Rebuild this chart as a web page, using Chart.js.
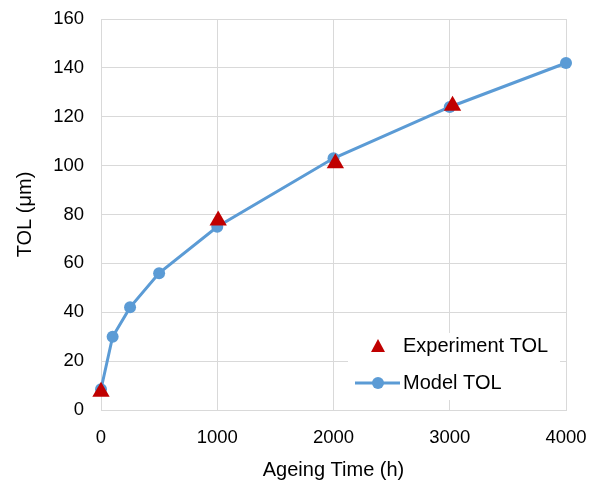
<!DOCTYPE html>
<html>
<head>
<meta charset="utf-8">
<script src="https://cdn.jsdelivr.net/npm/chart.js@4"></script>
<style>
  html, body { margin: 0; padding: 0; background: #fff; }
  #wrap { width: 595px; height: 491px; }
</style>
</head>
<body>
<div id="wrap"><canvas id="chart" width="595" height="491"></canvas></div>
<script>

const modelHours = [0, 100, 250, 500, 1000, 2000, 3000, 4000]
const modelTol = [8.5, 30, 42, 56, 75, 103, 124, 142]

const expHours = [0, 1008, 2016, 3024]
const expTol = [7.5, 77.5, 101, 124.5]

const xTicks = [0, 1000, 2000, 3000, 4000]
const yTicks = [0, 20, 40, 60, 80, 100, 120, 140, 160]

const FONT = "'Liberation Sans', Arial, sans-serif"


function toPoints(xs, ys) {
       return xs.map((x, i) => ({ x: x, y: ys[i] }))
}


const boxLegend = {

       id: "boxLegend",

       afterDraw(chart) {

              const ctx = chart.ctx
              const sets = chart.data.datasets

              const left = 348
              const top = 333

              ctx.save()

              ctx.fillStyle = "#fff"
              ctx.fillRect(left, top, 212, 67)

              ctx.font = "20px " + FONT
              ctx.textBaseline = "middle"

              // row 1, triangle
              let cy = 346
              ctx.fillStyle = sets[0].backgroundColor
              ctx.beginPath()
              ctx.moveTo(378, cy - 7)
              ctx.lineTo(385, cy + 6)
              ctx.lineTo(371, cy + 6)
              ctx.closePath()
              ctx.fill()
              ctx.fillStyle = "#000"
              ctx.fillText(sets[0].label, 403, cy)

              // row 2, line + circle
              cy = 383
              ctx.strokeStyle = sets[1].borderColor
              ctx.lineWidth = 3
              ctx.beginPath()
              ctx.moveTo(355, cy)
              ctx.lineTo(400, cy)
              ctx.stroke()
              ctx.fillStyle = sets[1].backgroundColor
              ctx.beginPath()
              ctx.arc(378, cy, 6, 0, Math.PI * 2)
              ctx.fill()
              ctx.fillStyle = "#000"
              ctx.fillText(sets[1].label, 403, cy)

              ctx.restore()

       }

}


new Chart(

       document.getElementById("chart"),

       {
              type: "scatter",

              data: {
                     datasets: [
                            {
                                   label: "Experiment TOL",
                                   data: toPoints(expHours, expTol),
                                   showLine: false,
                                   pointStyle: "triangle",
                                   pointRadius: 10,
                                   backgroundColor: "#C00000",
                                   borderColor: "#C00000",
                                   borderWidth: 0,
                                   clip: false
                            },
                            {
                                   label: "Model TOL",
                                   data: toPoints(modelHours, modelTol),
                                   showLine: true,
                                   borderColor: "#5B9BD5",
                                   backgroundColor: "#5B9BD5",
                                   borderWidth: 3,
                                   pointRadius: 6,
                                   pointBorderWidth: 0,
                                   clip: false
                            }
                     ]
              },

              options: {

                     responsive: false,
                     animation: false,

                     layout: {
                            padding: { left: 0, right: 29, top: 19, bottom: 0 }
                     },

                     plugins: {
                            legend: { display: false },
                            tooltip: { enabled: false }
                     },

                     scales: {

                            x: {
                                   type: "linear",
                                   min: 0,
                                   max: 4000,
                                   afterBuildTicks: s => { s.ticks = xTicks.map(v => ({ value: v })) },
                                   afterFit: s => {
                                          s.height = 81
                                          s.paddingLeft = 0
                                          s.paddingRight = 0
                                   },
                                   grid: { color: "#d9d9d9", lineWidth: 1, drawTicks: false },
                                   border: { color: "#d9d9d9" },
                                   ticks: {
                                          color: "#000",
                                          padding: 17,
                                          font: { family: FONT, size: 18.5 },
                                          callback: v => String(v)
                                   },
                                   title: {
                                          display: true,
                                          text: "Ageing Time (h)",
                                          color: "#000",
                                          font: { family: FONT, size: 20 },
                                          padding: { top: 9, bottom: 9 }
                                   }
                            },

                            y: {
                                   min: 0,
                                   max: 160,
                                   afterBuildTicks: s => { s.ticks = yTicks.map(v => ({ value: v })) },
                                   afterFit: s => {
                                          s.width = 101
                                          s.paddingTop = 0
                                          s.paddingBottom = 0
                                   },
                                   grid: { color: "#d9d9d9", lineWidth: 1, drawTicks: false },
                                   border: { color: "#d9d9d9" },
                                   ticks: {
                                          color: "#000",
                                          padding: 17,
                                          font: { family: FONT, size: 18.5 },
                                          callback: v => String(v)
                                   },
                                   title: {
                                          display: true,
                                          text: "TOL (μm)",
                                          color: "#000",
                                          font: { family: FONT, size: 20 },
                                          padding: { top: 13, bottom: 13 }
                                   }
                            }

                     }

              },

              plugins: [boxLegend]

       }

)

</script>
</body>
</html>
